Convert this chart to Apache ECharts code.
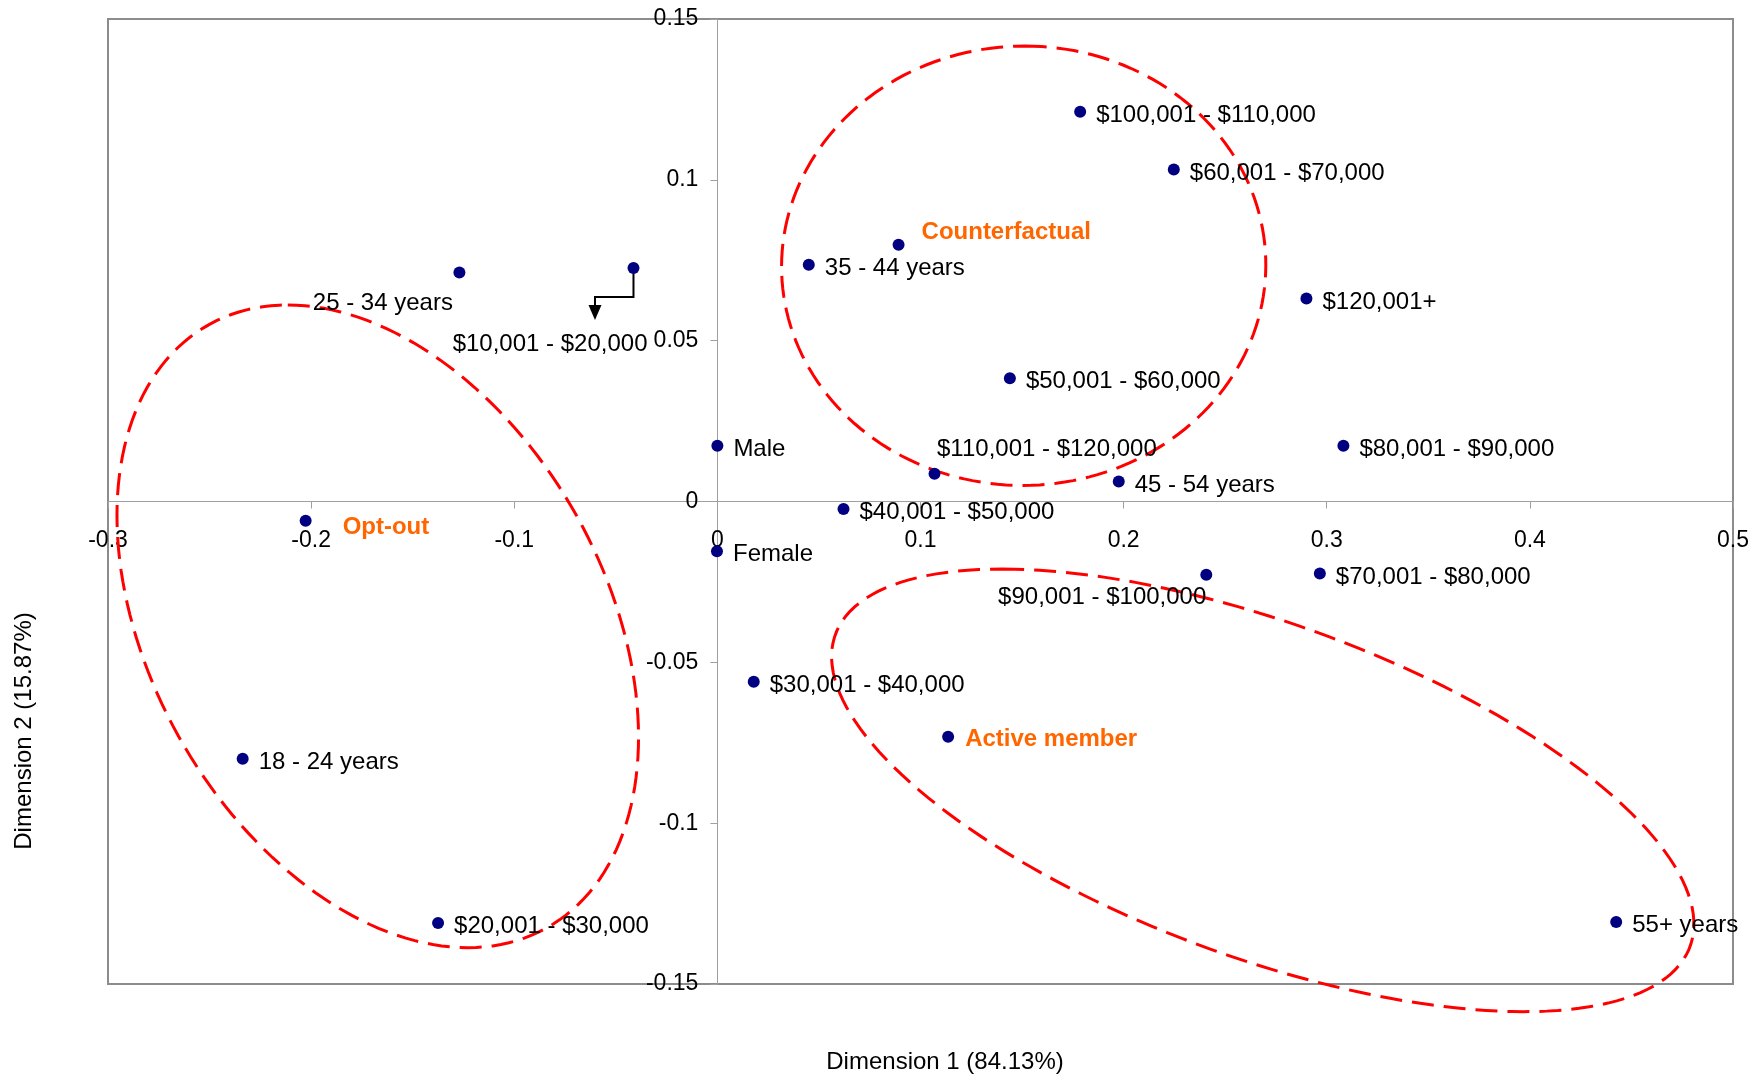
<!DOCTYPE html>
<html>
<head>
<meta charset="utf-8">
<script src="https://cdn.jsdelivr.net/npm/echarts@6/dist/echarts.min.js"></script>
<style>
html,body{margin:0;padding:0;background:#ffffff;}
#chart{width:1761px;height:1080px;}
</style>
</head>
<body>
<div id="chart"></div>
<script>
// ---------- data ----------
const pointNames = [
  '$100,001 - $110,000', '$60,001 - $70,000', 'Counterfactual', '35 - 44 years',
  '25 - 34 years', '$10,001 - $20,000', '$120,001+', '$50,001 - $60,000',
  'Male', '$80,001 - $90,000', '$110,001 - $120,000', '45 - 54 years',
  '$40,001 - $50,000', 'Opt-out', 'Female', '$90,001 - $100,000',
  '$70,001 - $80,000', '$30,001 - $40,000', 'Active member', '18 - 24 years',
  '$20,001 - $30,000', '55+ years'
];
const dimension1 = [
  0.1786, 0.2247, 0.0892, 0.0450,
  -0.1270, -0.0413, 0.2900, 0.1440,
  0.0000, 0.3082, 0.1069, 0.1976,
  0.0621, -0.2027, -0.0002, 0.2407,
  0.2966, 0.0179, 0.1136, -0.2337,
  -0.1375, 0.4425
];
const dimension2 = [
  0.1212, 0.1032, 0.0798, 0.0736,
  0.0712, 0.0726, 0.0631, 0.0383,
  0.0173, 0.0173, 0.0086, 0.0062,
  -0.0023, -0.0060, -0.0155, -0.0228,
  -0.0224, -0.0560, -0.0731, -0.0800,
  -0.1310, -0.1307
];
const groupNames = ['Opt-out', 'Counterfactual', 'Active member'];
// group ellipses in data units: centre, top-most point, horizontal half-chord through centre
const ellipseCenterX = [-0.1672, 0.1508, 0.2685];
const ellipseCenterY = [-0.0388, 0.0733, -0.0898];
const ellipseTopX = [-0.2115, 0.1513, 0.1402];
const ellipseTopY = [0.0611, 0.1416, -0.0210];
const ellipseHalfWidth = [0.1205, 0.1192, 0.1691];
// axes
const xMin = -0.3, xMax = 0.5, xStep = 0.1;
const yMin = -0.15, yMax = 0.15, yStep = 0.05;
const xTitle = 'Dimension 1 (84.13%)';
const yTitle = 'Dimension 2 (15.87%)';
const arrowedLabel = '$10,001 - $20,000';

// ---------- layout & styles ----------
const W = 1761, H = 1080;
const G = { left: 108, right: 28, top: 19, bottom: 96 };
const gridW = W - G.left - G.right, gridH = H - G.top - G.bottom;
// axes cross at the origin: shift each axis from the grid edge to the other axis' zero
const xAxisOffset = -((0 - yMin) / (yMax - yMin)) * gridH;
const yAxisOffset = -((0 - xMin) / (xMax - xMin)) * gridW;

const FONT = "'Liberation Sans', Arial, Helvetica, sans-serif";
const DOT = '#000080';
const ORANGE = '#ff6600';
const AXIS = '#a0a0a0';
const SYM = 12;
const LABEL_DY = 2.5;
const labelPlacement = {
  'Counterfactual':       { align: 'left',  offset: [23, -14.5] },
  'Opt-out':              { align: 'left',  offset: [37, 4] },
  'Active member':        { align: 'left',  offset: [17, 0] },
  '$110,001 - $120,000':  { align: 'left',  offset: [2.5, -27] },
  '$90,001 - $100,000':   { align: 'right', offset: [0, 20.5] },
  '25 - 34 years':        { align: 'right', offset: [-6.5, 28] },
  '$10,001 - $20,000':    { align: 'right', offset: [14, 73.5] }
};

const scatterData = pointNames.map(function (name, i) {
  const place = labelPlacement[name] || { align: 'left', offset: [16, 1] };
  const isGroup = groupNames.indexOf(name) >= 0;
  return {
    name: name,
    value: [dimension1[i], dimension2[i]],
    label: {
      position: [SYM / 2 + place.offset[0], SYM / 2 + place.offset[1] + LABEL_DY],
      align: place.align,
      verticalAlign: 'middle',
      color: isGroup ? ORANGE : '#000000',
      fontWeight: isGroup ? 'bold' : 'normal'
    }
  };
});

const ellipseData = groupNames.map(function (g, i) {
  return [ellipseCenterX[i], ellipseCenterY[i]];
});

const arrowIdx = pointNames.indexOf(arrowedLabel);

const chart = echarts.init(document.getElementById('chart'), null, { renderer: 'canvas' });
chart.setOption({
  animation: false,
  backgroundColor: '#ffffff',
  grid: {
    left: G.left, right: G.right, top: G.top, bottom: G.bottom,
    show: true, borderColor: '#8c8c8c', borderWidth: 2,
    backgroundColor: 'transparent',
    outerBoundsMode: 'none'
  },
  xAxis: {
    type: 'value', min: xMin, max: xMax, interval: xStep,
    position: 'bottom', offset: xAxisOffset,
    axisLine: { show: true, onZero: false, lineStyle: { color: AXIS, width: 1 } },
    axisTick: { show: true, length: 7, lineStyle: { color: AXIS, width: 1 } },
    axisLabel: { margin: 28, color: '#000', fontSize: 23, fontFamily: FONT, showMinLabel: true, showMaxLabel: true, hideOverlap: false },
    splitLine: { show: false }
  },
  yAxis: {
    type: 'value', min: yMin, max: yMax, interval: yStep,
    position: 'left', offset: yAxisOffset,
    axisLine: { show: true, onZero: false, lineStyle: { color: AXIS, width: 1 } },
    axisTick: { show: true, length: 7, lineStyle: { color: AXIS, width: 1 } },
    axisLabel: { margin: 19, padding: [8, 0, 0, 0], color: '#000', fontSize: 23, fontFamily: FONT, showMinLabel: true, showMaxLabel: true, hideOverlap: false },
    splitLine: { show: false }
  },
  graphic: [
    {
      type: 'text', x: 945, y: 1062, silent: true,
      style: { text: xTitle, fill: '#000', font: '24px ' + FONT, textAlign: 'center', textVerticalAlign: 'middle' }
    },
    {
      type: 'text', x: 24, y: 731, rotation: Math.PI / 2, silent: true,
      style: { text: yTitle, fill: '#000', font: '24px ' + FONT, textAlign: 'center', textVerticalAlign: 'middle' }
    }
  ],
  series: [
    {
      type: 'custom',
      name: 'groups',
      coordinateSystem: 'cartesian2d',
      clip: false,
      silent: true,
      z: 3,
      data: ellipseData,
      renderItem: function (params, api) {
        const i = params.dataIndex;
        const cx = ellipseCenterX[i], cy = ellipseCenterY[i];
        const ux = ellipseTopX[i] - cx, uy = ellipseTopY[i] - cy;
        const vx = ellipseHalfWidth[i], vy = 0;
        const pts = [];
        const N = 180;
        for (let k = 0; k <= N; k++) {
          const t = (k / N) * Math.PI * 2;
          const c = Math.cos(t), s = Math.sin(t);
          pts.push(api.coord([cx + ux * c + vx * s, cy + uy * c + vy * s]));
        }
        return {
          type: 'polyline',
          shape: { points: pts },
          style: { fill: null, stroke: '#ff0000', lineWidth: 3, lineDash: [22, 10] }
        };
      }
    },
    {
      type: 'custom',
      name: 'leader',
      coordinateSystem: 'cartesian2d',
      clip: false,
      silent: true,
      z: 4,
      data: [[dimension1[arrowIdx], dimension2[arrowIdx]]],
      renderItem: function (params, api) {
        const p = api.coord([api.value(0), api.value(1)]);
        const x = p[0], y = p[1];
        return {
          type: 'group',
          children: [
            {
              type: 'polyline',
              shape: { points: [[x, y], [x, y + 29], [x - 38.5, y + 29], [x - 38.5, y + 38]] },
              style: { fill: null, stroke: '#000', lineWidth: 2 }
            },
            {
              type: 'polygon',
              shape: { points: [[x - 45, y + 37], [x - 32, y + 37], [x - 38.5, y + 52]] },
              style: { fill: '#000' }
            }
          ]
        };
      }
    },
    {
      type: 'scatter',
      name: 'categories',
      z: 5,
      symbol: 'circle',
      symbolSize: SYM,
      itemStyle: { color: DOT, opacity: 1 },
      label: {
        show: true,
        formatter: '{b}',
        fontSize: 24,
        fontFamily: FONT,
        color: '#000',
        textBorderWidth: 0
      },
      labelLayout: { hideOverlap: false },
      emphasis: { disabled: true },
      data: scatterData
    }
  ]
});
</script>
</body>
</html>
